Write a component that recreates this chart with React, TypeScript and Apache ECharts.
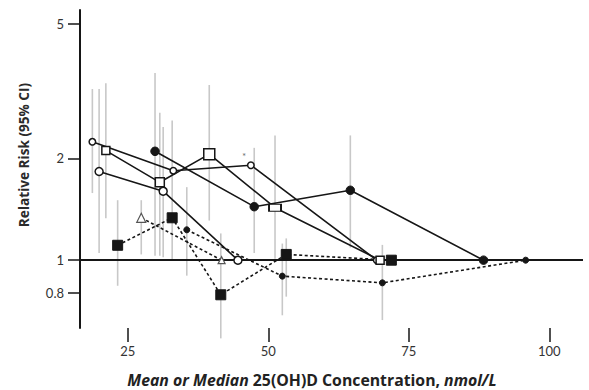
import { useEffect, useRef } from "react";
import * as echarts from "echarts";

// ---- axis ticks ----
const xTickValues = [25, 50, 75, 100];
const yTickValues = [0.8, 1, 2, 5];

// ---- studies (x = mean/median 25(OH)D, rr = relative risk, lo/hi = 95% CI) ----
// A: small open circles, solid
const aX = [18.7, 33.1, 46.9, 69.3];
const aRR = [2.24, 1.84, 1.91, 1.0];
const aLo = [1.58, null, null, null];
const aHi = [3.21, null, null, null];

// B: open squares, solid
const bX = [21.1, 30.7, 39.5, 51.2, 69.9];
const bRR = [2.11, 1.7, 2.06, 1.43, 1.0];
const bLo = [1.33, 1.03, 1.31, 1.01, null];
const bHi = [3.34, 2.73, 3.3, 2.34, null];

// C: large open circles, solid
const cX = [19.9, 31.3, 44.6];
const cRR = [1.83, 1.6, 1.0];
const cLo = [1.05, 1.02, null];
const cHi = [3.21, 2.48, null];

// D: filled circles, solid
const dX = [29.85, 47.5, 64.6, 88.3];
const dRR = [2.1, 1.44, 1.61, 1.0];
const dLo = [1.03, 1.05, 1.09, null];
const dHi = [3.58, 2.15, 2.34, null];

// E: filled squares, dashed
const eX = [23.2, 32.9, 41.55, 53.2, 71.9];
const eRR = [1.107, 1.335, 0.79, 1.04, 1.0];
const eLo = [0.84, 1.0, 0.587, 0.78, null];
const eHi = [1.505, 2.59, 1.2, 1.16, null];

// F: open triangles, dashed
const fX = [27.4, 41.7];
const fRR = [1.335, 1.0];
const fLo = [1.04, null];
const fHi = [1.505, null];

// G: small filled circles, dashed
const gX = [35.5, 52.5, 70.3, 95.8];
const gRR = [1.23, 0.897, 0.857, 1.0];
const gLo = [0.9, 0.687, 0.665, null];
const gHi = [1.645, 1.12, 1.11, null];

// asterisk annotation
const starPoint = [45.7, 2.03];

// ---- styles ----
const bSizes: any[] = [8, 9, 11, [12, 7], 8];
const fSizes: any[] = [9, 7];
const INK = "#161616";
const FONT = "Lato, 'Open Sans', sans-serif";
const TITLE_FONT = "'Open Sans', Lato, sans-serif";

const pts = (xs: number[], ys: number[]) => xs.map((x, i) => [x, ys[i]]);

const groups = [
  [aX, aLo, aHi],
  [bX, bLo, bHi],
  [cX, cLo, cHi],
  [dX, dLo, dHi],
  [eX, eLo, eHi],
  [fX, fLo, fHi],
  [gX, gLo, gHi],
] as const;

const errorBars: number[][] = [];
groups.forEach(([xs, lo, hi]) => {
  xs.forEach((x, i) => {
    const l = (lo as any)[i];
    const h = (hi as any)[i];
    if (l != null && h != null) errorBars.push([x, l, h]);
  });
});

const openItem = { color: "#ffffff", borderColor: INK, borderWidth: 1.5 };
const filledItem = { color: INK, borderColor: INK, borderWidth: 1 };

function lineSeries(
  data: number[][],
  symbol: string,
  size: any,
  dashed: boolean,
  open: boolean,
  extra: any = {}
) {
  return {
    type: "line",
    data,
    symbol,
    symbolSize: size,
    showSymbol: true,
    silent: true,
    z: 4,
    lineStyle: {
      color: INK,
      width: 1.6,
      type: dashed ? [3, 2.5] : "solid",
    },
    itemStyle: open ? openItem : filledItem,
    ...extra,
  };
}

export default function App() {
  const ref = useRef<HTMLDivElement>(null);

  useEffect(() => {
    if (!ref.current) return;
    const chart = echarts.init(ref.current, null, { renderer: "svg" });

    const option: any = {
      animation: false,
      backgroundColor: "#ffffff",
      textStyle: { fontFamily: FONT },
      grid: { left: 80, right: 6, top: 10, bottom: 62, containLabel: false },
      xAxis: {
        type: "value",
        min: 16.5,
        max: 106,
        axisLine: { show: false },
        splitLine: { show: false },
        axisTick: {
          show: true,
          customValues: xTickValues,
          length: 14,
          lineStyle: { color: INK, width: 1.5 },
        },
        axisLabel: {
          customValues: xTickValues,
          margin: 16,
          fontSize: 13,
          color: "#333",
          fontFamily: FONT,
        },
      },
      yAxis: {
        type: "log",
        logBase: 10,
        min: 0.63,
        max: 5.5,
        axisLine: { show: true, lineStyle: { color: INK, width: 2 } },
        splitLine: { show: false },
        minorTick: { show: false },
        axisTick: {
          show: true,
          customValues: yTickValues,
          length: 12,
          lineStyle: { color: INK, width: 1.5 },
        },
        axisLabel: {
          customValues: yTickValues,
          margin: 16,
          fontSize: 13,
          color: "#333",
          fontFamily: FONT,
          formatter: (v: number) => String(+Number(v).toFixed(2)),
        },
      },
      graphic: [
        {
          type: "text",
          x: 23,
          y: 155,
          rotation: Math.PI / 2,
          style: {
            text: "Relative Risk (95% CI)",
            align: "center",
            verticalAlign: "middle",
            fill: "#2a2a2a",
            font: `bold 13.6px ${TITLE_FONT}`,
          },
        },
        {
          type: "text",
          x: 312,
          y: 380,
          style: {
            text: "{i|Mean or Median} 25(OH)D Concentration, {i|nmol/L}",
            align: "center",
            verticalAlign: "middle",
            fill: "#222",
            font: `bold 15.8px ${TITLE_FONT}`,
            rich: {
              i: {
                fontStyle: "italic",
                fontWeight: "bold",
                fontSize: 15.8,
                fontFamily: TITLE_FONT,
                fill: "#222",
              },
            },
          },
        },
      ],
      series: [
        {
          type: "custom",
          data: errorBars,
          clip: false,
          silent: true,
          z: 1,
          encode: { x: 0, y: [1, 2] },
          renderItem: (_p: any, api: any) => {
            const x = api.value(0);
            const p1 = api.coord([x, api.value(1)]);
            const p2 = api.coord([x, api.value(2)]);
            return {
              type: "line",
              shape: { x1: p1[0], y1: p1[1], x2: p2[0], y2: p2[1] },
              style: { stroke: "#c8c8c8", lineWidth: 1.6 },
            };
          },
        },
        lineSeries(pts(aX, aRR), "circle", 6.5, false, true, {
          markLine: {
            silent: true,
            symbol: ["none", "none"],
            label: { show: false },
            lineStyle: { color: INK, width: 2, type: "solid" },
            data: [{ yAxis: 1 }],
            z: 2,
          },
        }),
        lineSeries(pts(bX, bRR), "rect", (_v: any, p: any) => bSizes[p.dataIndex], false, true),
        lineSeries(pts(cX, cRR), "circle", 8, false, true),
        lineSeries(pts(dX, dRR), "circle", 8.5, false, false),
        lineSeries(pts(eX, eRR), "rect", 10, true, false),
        lineSeries(pts(fX, fRR), "triangle", (_v: any, p: any) => fSizes[p.dataIndex], true, true, {
          itemStyle: { color: "#ffffff", borderColor: "#555", borderWidth: 1.2 },
        }),
        lineSeries(pts(gX, gRR), "circle", 6, true, false),
        {
          type: "scatter",
          data: [starPoint],
          symbolSize: 0,
          silent: true,
          label: {
            show: true,
            formatter: "*",
            position: "inside",
            fontSize: 10,
            color: "#444",
          },
        },
      ],
    };

    chart.setOption(option);
    return () => chart.dispose();
  }, []);

  return (
    <div
      ref={ref}
      style={{ position: "fixed", left: 0, top: 0, width: 589, height: 390 }}
    />
  );
}
